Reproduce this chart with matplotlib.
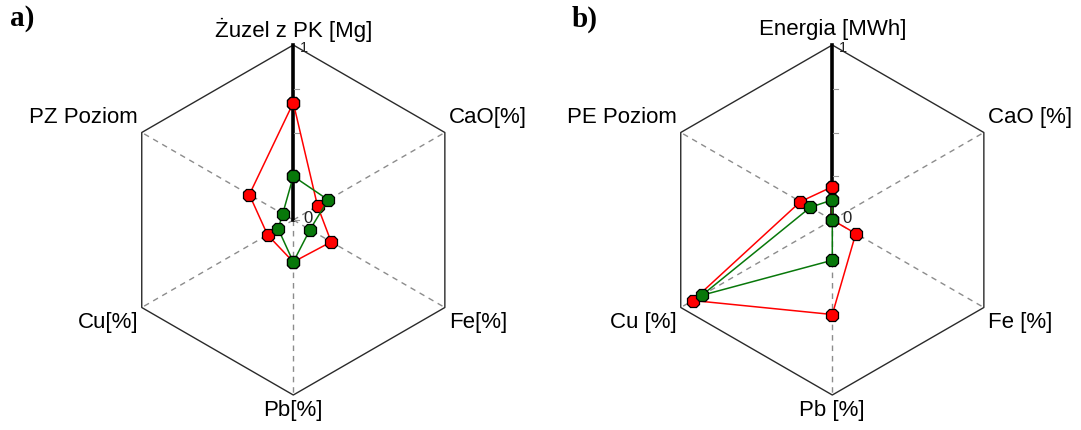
import numpy as np
import matplotlib
matplotlib.use("Agg")
import matplotlib.pyplot as plt

plt.rcParams["font.family"] = ["Liberation Sans", "DejaVu Sans"]

# Spoke labels for the two radar panels (clockwise from the top)
labels_a = ["Żuzel z PK [Mg]", "CaO[%]", "Fe[%]", "Pb[%]", "Cu[%]", "PZ Poziom"]
labels_b = ["Energia [MWh]", "CaO [%]", "Fe [%]", "Pb [%]", "Cu [%]", "PE Poziom"]

# Normalised values (0..1) for each spoke
red_a = [0.67, 0.16, 0.25, 0.24, 0.17, 0.29]
green_a = [0.25, 0.23, 0.11, 0.24, 0.10, 0.07]
red_b = [0.19, 0.0, 0.155, 0.54, 0.92, 0.21]
green_b = [0.115, 0.0, 0.0, 0.23, 0.86, 0.145]

panel_tags = ["a)", "b)"]

W, H = 1081, 430
R_PX = 175.0  # pixels per unit radius
angles = np.deg2rad([90, 30, -30, -90, -150, 150])

fig = plt.figure(figsize=(W / 100, H / 100), dpi=100)
fig.patch.set_facecolor("white")

LABEL_FS = 16


def make_axes(cx, cy, x0, x1):
    """Axes whose data units are radar radii, centred at pixel (cx, cy)."""
    ax = fig.add_axes([x0 / W, 0, (x1 - x0) / W, 1])
    ax.set_xlim((x0 - cx) / R_PX, (x1 - cx) / R_PX)
    ax.set_ylim((cy - H) / R_PX, cy / R_PX)
    ax.set_axis_off()
    ax.patch.set_alpha(0)
    return ax


def radar(ax, labels, red, green):
    vx = np.cos(angles)
    vy = np.sin(angles)
    # outer hexagon
    ax.plot(np.append(vx, vx[0]), np.append(vy, vy[0]), color="#2a2a2a", lw=1.0,
            solid_capstyle="butt", zorder=1)
    # dashed spokes
    for i in range(1, 6):
        ax.plot([0, vx[i]], [0, vy[i]], color="#8c8c8c", lw=1.0,
                dashes=(4, 3.5), zorder=1)
    # main vertical axis with ticks
    ax.plot([0, 0], [0, 1], color="black", lw=2.6, zorder=2)
    for t in [0.0, 0.25, 0.5, 0.75]:
        ax.plot([0.005, 0.03], [t, t], color="#9a9a9a", lw=0.8, zorder=2)
    ax.text(0.04, 0.985, "1", fontsize=10.5, ha="left", va="center",
            color="#222222", zorder=3)
    ax.text(0.055, 0.01, "0", fontsize=12, ha="left", va="center",
            color="#222222", zorder=3)

    # spoke labels
    ax.text(0, 1.086, labels[0], fontsize=LABEL_FS, ha="center", va="center")
    ax.text(vx[1] + 0.025, vy[1] + 0.085, labels[1], fontsize=LABEL_FS,
            ha="left", va="center")
    ax.text(vx[2] + 0.025, vy[2] - 0.088, labels[2], fontsize=LABEL_FS,
            ha="left", va="center")
    ax.text(0, -1.086, labels[3], fontsize=LABEL_FS, ha="center", va="center")
    ax.text(vx[4] - 0.02, vy[4] - 0.088, labels[4], fontsize=LABEL_FS,
            ha="right", va="center")
    ax.text(vx[5] - 0.02, vy[5] + 0.085, labels[5], fontsize=LABEL_FS,
            ha="right", va="center")

    for vals, face in [(red, "#ff0000"), (green, "#08780a")]:
        v = np.asarray(vals)
        xs = v * vx
        ys = v * vy
        ax.plot(np.append(xs, xs[0]), np.append(ys, ys[0]), color=face, lw=1.1,
                marker="8", markersize=9.5, markerfacecolor=face,
                markeredgecolor="black", markeredgewidth=0.9, zorder=4)


ax_a = make_axes(293.3, 220.0, 0, 560)
radar(ax_a, labels_a, red_a, green_a)
ax_b = make_axes(832.3, 220.0, 560, W)
radar(ax_b, labels_b, red_b, green_b)

fig.text(10 / W, 1 - 19 / H, panel_tags[0], fontsize=21, fontweight="bold",
         family="Liberation Serif", ha="left", va="center")
fig.text(572 / W, 1 - 19 / H, panel_tags[1], fontsize=21, fontweight="bold",
         family="Liberation Serif", ha="left", va="center")

fig.savefig("out.png", dpi=100, facecolor="white")
